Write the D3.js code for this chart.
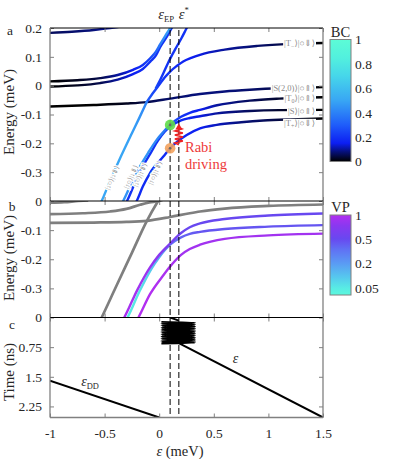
<!DOCTYPE html>
<html>
<head>
<meta charset="utf-8">
<script src="https://cdn.jsdelivr.net/npm/d3@7"></script>
<style>
body { margin: 0; background: #fff; }
svg { display: block; font-family: "Liberation Serif", "DejaVu Serif", serif; }
</style>
</head>
<body>
<svg id="chart" width="399" height="459"></svg>
<script>
// ---- data ----
const epsEP = 0.1
const epsStar = 0.18
const xTicks = [-1, -0.5, 0, 0.5, 1, 1.5]
const aTicks = [0.2, 0.1, 0, -0.1, -0.2, -0.3]
const bTicks = [0, -0.1, -0.2, -0.3]
const cTicks = [0, 0.75, 1.5, 2.25]
const bcTicks = [0, 0.2, 0.4, 0.6, 0.8, 1]
const vpTicks = [0.05, 0.2, 0.5, 1]

// colour maps
const bcStops = [0, 0.08, 0.15, 0.3, 0.5, 0.7, 0.85, 1]
const bcColors = ['#000000', '#06107a', '#0c1ef2', '#1f5dfa', '#38a6f4', '#46d6ea', '#52f0de', '#5cfcd6']
const vpStops = [0.03, 0.05, 0.1, 0.2, 0.35, 0.5, 0.75, 1]
const vpColors = ['#5cf8dc', '#58ece4', '#56c8ee', '#5a9af4', '#6070f4', '#6848f0', '#8a38f0', '#b22ff0']

// panel a levels: [eps, energy (meV), BC]
const aTopLeft = [[-1, 0.183, 0.06], [-0.8, 0.187, 0.07], [-0.6, 0.193, 0.08], [-0.45, 0.2, 0.1], [-0.38, 0.203, 0.1]]
const aUpperA = [[-1, 0.015, 0], [-0.75, 0.019, 0.02], [-0.54, 0.026, 0.05], [-0.38, 0.037, 0.1], [-0.24, 0.055, 0.15], [-0.15, 0.072, 0.2], [-0.08, 0.096, 0.25], [-0.03, 0.118, 0.32], [0.007, 0.142, 0.38], [0.06, 0.175, 0.45], [0.1, 0.2, 0.5], [0.12, 0.213, 0.5]]
const aUpperB = [[-1, -0.003, 0], [-0.75, 0.001, 0.02], [-0.54, 0.009, 0.05], [-0.38, 0.021, 0.1], [-0.24, 0.04, 0.15], [-0.15, 0.058, 0.18], [-0.08, 0.084, 0.2], [-0.03, 0.105, 0.2], [0.007, 0.133, 0.2], [0.07, 0.17, 0.2], [0.115, 0.2, 0.2], [0.135, 0.213, 0.2]]
const aS20 = [[-1, -0.072, 0], [-0.6, -0.067, 0], [-0.3, -0.062, 0.02], [-0.115, -0.057, 0.05], [0.1, -0.045, 0.07], [0.374, -0.029, 0.08], [0.6, -0.02, 0.08], [0.83, -0.014, 0.07], [1.1, -0.009, 0.05], [1.3, -0.007, 0.02], [1.5, -0.005, 0]]
const aRise = [[-0.54, -0.41, 0.5], [-0.527, -0.4, 0.5], [-0.45, -0.33, 0.5], [-0.35, -0.245, 0.5], [-0.25, -0.165, 0.48], [-0.18, -0.11, 0.45], [-0.115, -0.057, 0.4]]
const aTminus = [[-0.115, -0.057, 0.3], [-0.05, -0.022, 0.25], [0, 0.003, 0.22], [0.05, 0.028, 0.2], [0.1, 0.049, 0.2], [0.16, 0.068, 0.18], [0.22, 0.084, 0.17], [0.3, 0.097, 0.15], [0.374, 0.107, 0.14], [0.6, 0.125, 0.1], [0.9, 0.138, 0.07], [1.2, 0.145, 0.04], [1.5, 0.148, 0]]
const aStar = [[-0.03, -0.008, 0.25], [0, 0.013, 0.22], [0.04, 0.045, 0.2], [0.08, 0.078, 0.2], [0.145, 0.125, 0.2], [0.2, 0.162, 0.2], [0.252, 0.2, 0.2], [0.27, 0.213, 0.2]]
const aT0 = [[-0.345, -0.41, 0.45], [-0.33, -0.4, 0.45], [-0.25, -0.335, 0.45], [-0.176, -0.28, 0.45], [-0.1, -0.232, 0.45], [-0.023, -0.188, 0.42], [0.04, -0.16, 0.38], [0.1, -0.136, 0.3], [0.2, -0.108, 0.2], [0.28, -0.094, 0.18], [0.374, -0.084, 0.15], [0.53, -0.068, 0.1], [0.83, -0.052, 0.06], [1.1, -0.045, 0.03], [1.5, -0.04, 0]]
const aS = [[-0.31, -0.41, 0.2], [-0.295, -0.4, 0.2], [-0.22, -0.335, 0.2], [-0.15, -0.28, 0.2], [-0.08, -0.235, 0.2], [-0.01, -0.19, 0.2], [0.05, -0.16, 0.2], [0.1, -0.142, 0.2], [0.2, -0.12, 0.18], [0.28, -0.112, 0.16], [0.374, -0.106, 0.14], [0.53, -0.096, 0.1], [0.83, -0.088, 0.06], [1.1, -0.085, 0.03], [1.5, -0.084, 0]]
const aTplus = [[-0.22, -0.41, 0.18], [-0.206, -0.4, 0.18], [-0.15, -0.35, 0.18], [-0.084, -0.303, 0.18], [0.038, -0.246, 0.18], [0.1, -0.217, 0.18], [0.252, -0.171, 0.17], [0.374, -0.148, 0.15], [0.527, -0.136, 0.12], [0.75, -0.127, 0.08], [0.953, -0.121, 0.06], [1.2, -0.117, 0.03], [1.5, -0.114, 0]]

// state labels on the right of panel a
const stateNames = ['T', 'S(2,0)', 'T', 'S', 'T']
const stateSubs = ['\u2212', '', '0', '', '+']
const stateSpins = ['\u21d3', '\u21d1', '\u21d1', '\u21d1', '\u21d3']
const stateLabelE = [0.147, -0.007, -0.044, -0.087, -0.129]
// rotated labels on the rising levels: text, eps, energy
const diagText = ['|\u2193\u25cb\u27e9|\u2193\u21d3\u27e9', '|\u2191\u25cb\u27e9|\u2193\u21d3\u27e9', '|\u2193\u25cb\u27e9|\u2191\u21d3\u27e9', '|\u2191\u25cb\u27e9|\u2191\u21d3\u27e9']
const diagEps = [-0.432, -0.258, -0.176, -0.038]
const diagE = [-0.319, -0.316, -0.309, -0.302]
// operating points
const markerE = [-0.136, -0.217]
const markerColors = ['#5fdc48', '#f2a25e']
// rabi squiggle: energy, horizontal offset (px)
const rabiWiggle = [[-0.205, 0], [-0.199, -4], [-0.192, 4], [-0.185, -4], [-0.178, 4], [-0.171, -4], [-0.164, 4], [-0.157, -4], [-0.150, 3], [-0.146, 0]]
const rabiTip = -0.131

// panel b: gray levels [eps, energy]
const bGrayTop = [[-1, -0.006], [-0.87, -0.004], [-0.74, 0.0], [-0.65, 0.002]]
const bGrayRise = [[-1, -0.045], [-0.7, -0.042], [-0.45, -0.036], [-0.3, -0.027], [-0.175, -0.013], [-0.09, -0.005], [-0.01, 0.0], [0.03, 0.004]]
const bGrayFlat = [[-1, -0.075], [-0.6, -0.074], [-0.3, -0.072], [-0.11, -0.068], [0.1, -0.055], [0.28, -0.042], [0.374, -0.036], [0.6, -0.026], [1, -0.017], [1.5, -0.012]]
const bGraySteep = [[-0.54, -0.41], [-0.527, -0.4], [-0.4, -0.298], [-0.25, -0.178], [-0.115, -0.07], [-0.01, 0.0], [0.01, 0.012]]
// panel b coloured levels [eps, energy, VP]
const bT0 = [[-0.335, -0.41, 0.95], [-0.32, -0.4, 0.95], [-0.2, -0.305, 0.9], [-0.084, -0.228, 0.85], [0, -0.185, 0.75], [0.1, -0.146, 0.65], [0.2, -0.11, 0.55], [0.28, -0.09, 0.5], [0.374, -0.077, 0.5], [0.6, -0.062, 0.5], [1, -0.05, 0.5], [1.5, -0.043, 0.5]]
const bS = [[-0.305, -0.41, 0.05], [-0.29, -0.4, 0.05], [-0.18, -0.31, 0.06], [-0.07, -0.232, 0.1], [0, -0.193, 0.15], [0.1, -0.15, 0.3], [0.2, -0.125, 0.4], [0.28, -0.113, 0.42], [0.374, -0.106, 0.45], [0.6, -0.096, 0.45], [1, -0.088, 0.45], [1.5, -0.083, 0.45]]
const bTplus = [[-0.205, -0.41, 1], [-0.19, -0.4, 1], [-0.084, -0.32, 1], [0.038, -0.255, 0.95], [0.1, -0.225, 0.95], [0.2, -0.185, 0.9], [0.28, -0.165, 0.9], [0.374, -0.15, 0.9], [0.6, -0.13, 0.9], [1, -0.118, 0.9], [1.5, -0.112, 0.9]]

// panel c: detuning pulse [eps, time (ns)]
const tDD = [[-1, 1.6], [0, 2.53]]
const tRamp = [[0.1, 0], [0.18, 0.08]]
const tSweep = [[0.18, 0.65], [1.5, 2.53]]
const rabiEdges = [0.02, 0.33]
const rabiTimes = [0.11, 0.133, 0.156, 0.179, 0.202, 0.225, 0.248, 0.271, 0.294, 0.317, 0.34, 0.363, 0.386, 0.409, 0.432, 0.455, 0.478, 0.501, 0.524, 0.547, 0.57, 0.593, 0.616, 0.639, 0.66]

// ---- scales ----
const svg = d3.select('#chart')
const defs = svg.append('defs')
const x = d3.scaleLinear().domain([-1, 1.5]).range([50, 323])
const ya = d3.scaleLinear().domain([-0.4, 0.2]).range([201, 28])
const yb = d3.scaleLinear().domain([-0.4, 0]).range([317.5, 201])
const yc = d3.scaleLinear().domain([0, 2.53]).range([317.5, 417.5])
const bcColor = d3.scaleLinear().domain(bcStops).range(bcColors).clamp(true)
const vpColor = d3.scaleLinear().domain(vpStops).range(vpColors).clamp(true)
const bcPos = d3.scaleLinear().domain([0, 1]).range([161.5, 39.5])
const vpPos = d3.scalePow().exponent(0.33).domain([0.03, 1]).range([295, 215])

const FONT = '"Liberation Serif", "DejaVu Serif", serif'
const INK = '#262626'
const AXIS = '#808080'

const clip = (id, y0, y1) => {
	defs.append('clipPath').attr('id', id)
		.append('rect').attr('x', x.range()[0]).attr('y', y0)
		.attr('width', x.range()[1] - x.range()[0]).attr('height', y1 - y0)
	return svg.append('g').attr('clip-path', `url(#${id})`)
}

let gradId = 0
const drawLevel = (g, data, y, colorOf, width) => {
	const id = 'lv' + gradId++
	const x1 = x(data[0][0])
	const x2 = x(data[data.length - 1][0])
	defs.append('linearGradient').attr('id', id)
		.attr('gradientUnits', 'userSpaceOnUse')
		.attr('x1', x1).attr('x2', x2).attr('y1', 0).attr('y2', 0)
		.selectAll('stop').data(data).join('stop')
		.attr('offset', d => (x(d[0]) - x1) / (x2 - x1))
		.attr('stop-color', d => colorOf(d[2]))
	g.append('path').datum(data)
		.attr('d', d3.line().x(d => x(d[0])).y(d => y(d[1])).curve(d3.curveMonotoneX))
		.attr('fill', 'none').attr('stroke', `url(#${id})`)
		.attr('stroke-width', width).attr('stroke-linecap', 'round')
}

const plain = (g, data, y, color, width, curve) => {
	g.append('path').datum(data)
		.attr('d', d3.line().x(d => x(d[0])).y(d => y(d[1])).curve(curve || d3.curveMonotoneX))
		.attr('fill', 'none').attr('stroke', color).attr('stroke-width', width)
}

// ---- panel a ----
const gA = clip('clipA', 28, 201)
;[aS20, aTopLeft, aUpperB, aUpperA, aTminus, aStar, aRise, aTplus, aS, aT0]
	.forEach(d => drawLevel(gA, d, ya, bcColor, 2.4))

diagText.forEach((t, i) => {
	gA.append('text')
		.attr('transform', `translate(${x(diagEps[i])},${ya(diagE[i])}) rotate(-66)`)
		.attr('text-anchor', 'middle').attr('dy', '0.35em')
		.attr('font-size', 7).attr('font-family', FONT).attr('fill', '#8a8a8a')
		.attr('stroke', '#fff').attr('stroke-width', 2.4).attr('paint-order', 'stroke')
		.text(t)
})

// ---- panel b ----
const gB = clip('clipB', 201, 317.5)
;[bGrayTop, bGrayRise, bGrayFlat, bGraySteep].forEach(d => plain(gB, d, yb, '#7f7f7f', 2.7))
;[bTplus, bS, bT0].forEach(d => drawLevel(gB, d, yb, vpColor, 2.4))

// ---- panel c ----
const gC = clip('clipC', 317.5, 417.5)
plain(gC, tDD, yc, '#000', 2, d3.curveLinear)
plain(gC, tRamp, yc, '#000', 2, d3.curveLinear)
plain(gC, tSweep, yc, '#000', 2, d3.curveLinear)
gC.append('path').datum(rabiTimes.map((t, i) => [rabiEdges[i % 2], t]))
	.attr('d', d3.line().x(d => x(d[0])).y(d => yc(d[1])).curve(d3.curveMonotoneY))
	.attr('fill', 'none').attr('stroke', '#000').attr('stroke-width', 1.8)

// ---- dashed guides at eps_EP and eps* ----
;[epsEP, epsStar].forEach(e => {
	svg.append('line').attr('x1', x(e)).attr('x2', x(e)).attr('y1', 30).attr('y2', 417.5)
		.attr('stroke', '#000').attr('stroke-width', 1).attr('stroke-dasharray', '6,3')
})

// operating points
markerE.forEach((e, i) => {
	svg.append('circle').attr('cx', x(epsEP)).attr('cy', ya(e)).attr('r', 5.3)
		.attr('fill', markerColors[i]).attr('fill-opacity', 0.9)
	svg.append('circle').attr('cx', x(epsEP)).attr('cy', ya(e)).attr('r', 1.3).attr('fill', '#666')
})

// rabi drive squiggle with arrow
const rx = x(epsStar)
svg.append('path').datum(rabiWiggle)
	.attr('d', d3.line().x(d => rx + d[1]).y(d => ya(d[0])))
	.attr('fill', 'none').attr('stroke', '#ee2222').attr('stroke-width', 1.5)
svg.append('path')
	.attr('d', `M${rx},${ya(rabiTip)}L${rx - 3.5},${ya(rabiTip) + 6}L${rx + 3.5},${ya(rabiTip) + 6}Z`)
	.attr('fill', '#ee2222')
svg.append('text').attr('x', 185).attr('y', 152).attr('font-size', 14.5).attr('font-family', FONT)
	.attr('fill', '#ee3a3a').text('Rabi')
svg.append('text').attr('x', 185).attr('y', 169).attr('font-size', 14.5).attr('font-family', FONT)
	.attr('fill', '#ee3a3a').text('driving')

// state labels with white boxes
const rl = svg.append('g')
stateNames.forEach((n, i) => {
	const t = rl.append('text').attr('x', 315).attr('y', ya(stateLabelE[i])).attr('dy', '0.35em')
		.attr('text-anchor', 'end').attr('font-size', 8.5).attr('font-family', FONT).attr('fill', '#8a8a8a')
	t.append('tspan').text('|' + n)
	if (stateSubs[i]) t.append('tspan').attr('dy', 2).attr('font-size', 6).text(stateSubs[i])
	t.append('tspan').attr('dy', stateSubs[i] ? -2 : 0).text('\u27e9|\u25cb' + stateSpins[i] + '\u27e9')
	const bb = t.node().getBBox()
	rl.insert('rect', () => t.node())
		.attr('x', bb.x - 1).attr('y', bb.y + 1).attr('width', bb.width + 2).attr('height', bb.height - 2)
		.attr('fill', '#fff')
})

// ---- axes ----
const panelAxes = (yScale, yTicks, yTop, yBottom, showX) => {
	const g = svg.append('g')
	const fmt = d => String(d)
	g.append('g').attr('transform', `translate(${x.range()[0]},0)`)
		.call(d3.axisLeft(yScale).tickValues(yTicks).tickSize(-4).tickPadding(8).tickFormat(fmt))
	g.append('g').attr('transform', `translate(${x.range()[1]},0)`)
		.call(d3.axisRight(yScale).tickValues(yTicks).tickSize(-4).tickFormat(''))
	g.append('g').attr('transform', `translate(0,${yTop})`)
		.call(d3.axisTop(x).tickValues(xTicks).tickSize(-4).tickFormat(''))
	const xb = d3.axisBottom(x).tickValues(xTicks).tickSize(-4)
	g.append('g').attr('transform', `translate(0,${yBottom})`)
		.call(showX ? xb.tickPadding(11).tickFormat(fmt) : xb.tickFormat(''))
	g.selectAll('.domain').remove()
	g.selectAll('.tick line').attr('stroke', AXIS)
	g.selectAll('.tick text').attr('fill', INK).attr('font-size', 13.5).attr('font-family', FONT)
	g.append('line').attr('x1', x.range()[0]).attr('x2', x.range()[1]).attr('y1', yTop).attr('y2', yTop)
		.attr('stroke', '#000').attr('stroke-width', 1)
	;[x.range()[0], x.range()[1]].forEach(px => {
		g.append('line').attr('x1', px).attr('x2', px).attr('y1', yTop).attr('y2', yBottom)
			.attr('stroke', AXIS).attr('stroke-width', 1.3)
	})
	if (showX) {
		g.append('line').attr('x1', x.range()[0]).attr('x2', x.range()[1]).attr('y1', yBottom).attr('y2', yBottom)
			.attr('stroke', AXIS).attr('stroke-width', 1.3)
	}
}
panelAxes(ya, aTicks, 28, 201, false)
panelAxes(yb, bTicks, 201, 317.5, false)
panelAxes(yc, cTicks, 317.5, 417.5, true)

// ---- axis titles and panel letters ----
const label = (txt, tx, ty, size, rot) => svg.append('text')
	.attr('transform', `translate(${tx},${ty})` + (rot ? ` rotate(${rot})` : ''))
	.attr('text-anchor', 'middle').attr('font-size', size).attr('font-family', FONT).attr('fill', INK)
	.text(txt)
label('Energy (meV)', 14, 112, 15, -90)
label('Energy (meV)', 14, 258, 15, -90)
label('Time (ns)', 14, 372, 15, -90)
label('a', 10, 35, 13.5)
label('b', 12, 211, 13.5)
label('c', 12, 329, 13.5)

const xl = svg.append('text').attr('x', 180).attr('y', 456).attr('text-anchor', 'middle')
	.attr('font-size', 14.5).attr('font-family', FONT).attr('fill', INK)
xl.append('tspan').attr('font-style', 'italic').text('\u03b5')
xl.append('tspan').text(' (meV)')

const epsLabel = (tx, ty, sub, sup, size) => {
	const t = svg.append('text').attr('x', tx).attr('y', ty).attr('text-anchor', 'middle')
		.attr('font-size', size).attr('font-family', FONT).attr('fill', INK)
	t.append('tspan').attr('font-style', 'italic').text('\u03b5')
	if (sub) t.append('tspan').attr('dy', 3).attr('font-size', size * 0.6).text(sub)
	if (sup) t.append('tspan').attr('dy', -6).attr('font-size', size * 0.6).text(sup)
}
epsLabel(x(epsEP) - 4, 19, 'EP', '', 14.5)
epsLabel(x(epsStar) + 5, 19, '', '*', 14.5)
epsLabel(x(-0.634), yc(1.74), 'DD', '', 14)
epsLabel(x(0.7), yc(1.16), '', '', 14)

// ---- colour bars ----
const colorbar = (title, y0, y1, stops, colorOf, offsetOf, ticks, pos) => {
	const id = 'cb' + title
	defs.append('linearGradient').attr('id', id).attr('x1', 0).attr('x2', 0).attr('y1', 1).attr('y2', 0)
		.selectAll('stop').data(stops).join('stop')
		.attr('offset', d => offsetOf(d)).attr('stop-color', d => colorOf(d))
	svg.append('rect').attr('x', 330).attr('y', y0).attr('width', 21).attr('height', y1 - y0)
		.attr('fill', `url(#${id})`).attr('stroke', AXIS).attr('stroke-width', 1)
	const g = svg.append('g').attr('transform', 'translate(351,0)')
		.call(d3.axisRight(pos).tickValues(ticks).tickSize(0).tickPadding(4).tickFormat(d => String(d)))
	g.select('.domain').remove()
	g.selectAll('.tick text').attr('fill', INK).attr('font-size', 13.5).attr('font-family', FONT)
	svg.append('text').attr('x', 340.5).attr('y', y0 - 3).attr('text-anchor', 'middle')
		.attr('font-size', 14.5).attr('font-family', FONT).attr('fill', INK).text(title)
}
colorbar('BC', 39.5, 161.5, bcStops, bcColor, d => d, bcTicks, bcPos)
colorbar('VP', 215, 295, vpStops, vpColor, d => (295 - vpPos(d)) / 80, vpTicks, vpPos)
</script>
</body>
</html>
